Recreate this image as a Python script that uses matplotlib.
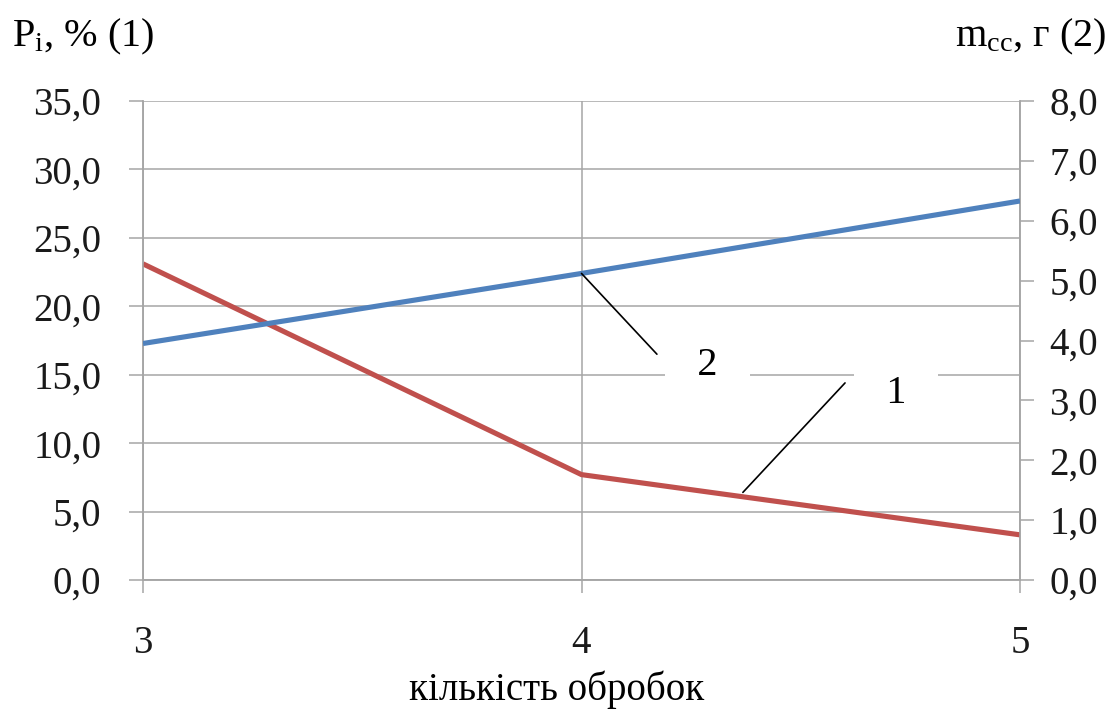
import matplotlib.pyplot as plt
import numpy as np

plt.rcParams['font.family'] = ['Liberation Serif', 'DejaVu Serif']
plt.rcParams['mathtext.fontset'] = 'custom'
plt.rcParams['mathtext.rm'] = 'Liberation Serif'
plt.rcParams['mathtext.it'] = 'Liberation Serif:italic'

# data
treatments = [3, 4, 5]
p_loss = [23.1, 7.7, 3.3]        # curve 1, left axis, %
m_mass = [3.95, 5.12, 6.33]      # curve 2, right axis, g

left_ticks = np.arange(0, 36, 5)
right_ticks = np.arange(0, 9, 1)

grid_c = '#a6a6a6'
red = '#c0504d'
blue = '#4f81bd'

fig = plt.figure(figsize=(11.18, 7.11), dpi=100)
ax = fig.add_axes([143/1118, 1 - 580/711, (1020 - 143)/1118, (580 - 101)/711])
ax2 = ax.twinx()

ax.plot(treatments, p_loss, color=red, lw=3.7, solid_capstyle='butt', zorder=3)
ax2.plot(treatments, m_mass, color=blue, lw=3.7, solid_capstyle='butt', zorder=3)

ax.set_xlim(3, 5)
ax.set_ylim(0, 35)
ax2.set_ylim(0, 8)
ax.set_xticks(treatments)
ax.set_yticks(left_ticks)
ax2.set_yticks(right_ticks)
ax.set_yticklabels([f'{v:.1f}'.replace('.', ',') for v in left_ticks])
ax2.set_yticklabels([f'{v:.1f}'.replace('.', ',') for v in right_ticks])

ax.grid(True, color=grid_c, lw=1.1)
ax.set_axisbelow(True)
for a in (ax, ax2):
    for s in a.spines.values():
        s.set_color(grid_c)
        s.set_linewidth(1.1)
    a.spines['top'].set_visible(False)

ax.tick_params(axis='y', direction='out', length=10, width=1.1, color=grid_c,
               labelsize=28, labelcolor='#1a1a1a', pad=20)
ax.tick_params(axis='x', direction='out', length=9.5, width=1.1, color=grid_c,
               labelsize=28, labelcolor='#1a1a1a', pad=23)
ax2.tick_params(axis='y', direction='out', length=10, width=1.1, color=grid_c,
                labelsize=28, labelcolor='#1a1a1a', pad=11)

ax.set_xlabel('кількість обробок', fontsize=28, va='baseline')
ax.xaxis.set_label_coords(0.472, -0.250)
fig.text(12/1118, 1 - 37/711, r'P$_{\mathrm{i}}$, % (1)', fontsize=29, va='center', ha='left')
fig.text(1106/1118, 1 - 37/711, r'm$_{\mathrm{cc}}$, г (2)', fontsize=29, va='center', ha='right')

# curve labels with leader lines
ax2.annotate('', xy=(treatments[1], m_mass[1]), xycoords='data',
             xytext=(4.172, 16.5), textcoords=ax.transData,
             arrowprops=dict(arrowstyle='-', lw=1.2, color='black', shrinkA=0, shrinkB=0))
ax2.annotate('', xy=(4.368, 6.4), xycoords=ax.transData,
             xytext=(4.601, 14.4), textcoords=ax.transData,
             arrowprops=dict(arrowstyle='-', lw=1.2, color='black', shrinkA=0, shrinkB=0))
box = dict(boxstyle='square,pad=0.05', fc='white', ec='none')
ax2.text(4.288, 15.7, '   2   ', transform=ax.transData, fontsize=29,
         ha='center', va='center', bbox=box, zorder=5)
ax2.text(4.717, 13.6, '   1   ', transform=ax.transData, fontsize=29,
         ha='center', va='center', bbox=box, zorder=5)

fig.savefig('out.png', dpi=100)
